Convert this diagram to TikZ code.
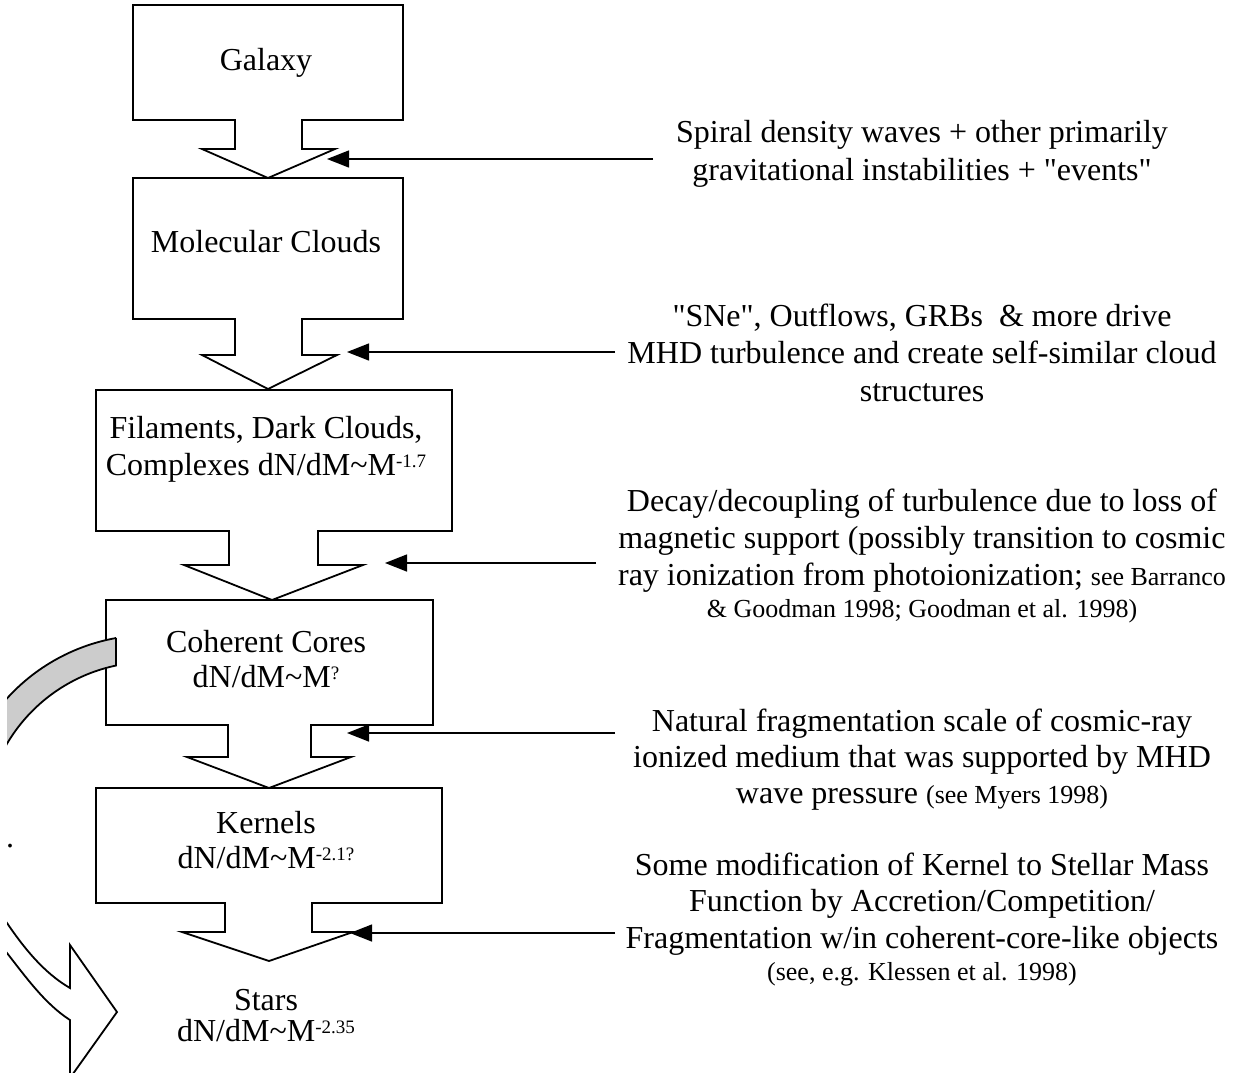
\documentclass[tikz,border=0pt]{standalone}
\usepackage{fontspec}
\setmainfont{Liberation Serif}[Ligatures=TeXOff]
\usetikzlibrary{arrows.meta}
\newcommand\bigf{\fontsize{32}{37}\selectfont}
\newcommand\smallf{\fontsize{26}{30}\selectfont}
\newcommand\tld{\textasciitilde}
\newcommand\mysup[1]{\raisebox{8pt}{\fontsize{19}{20}\selectfont #1}}
\tikzset{
  blockarrow/.style={draw=black, line width=1.8pt, fill=white, line join=miter},
  lbl/.style={font=\bigf, inner sep=0pt, anchor=base},
  note/.style={font=\bigf, inner sep=0pt, anchor=base},
  feed/.style={draw=black, line width=1.4pt, -{Triangle[length=22pt,width=17pt]}},
  band/.style={draw=black, line width=1.8pt, fill=black!20},
  hollow/.style={draw=black, line width=1.8pt, fill=white, line join=miter}
}
\begin{document}
\begin{tikzpicture}[x=1pt,y=-1pt]
\fill[white] (0,0) rectangle (1233,1072);
\useasboundingbox (0,0) rectangle (1233,1072);

% block arrows
\draw[blockarrow] (133,5) -- (403,5) -- (403,120) -- (302,120) -- (302,149) -- (335,149) -- (268,178) -- (202,149) -- (235,149) -- (235,120) -- (133,120) -- cycle;
\draw[blockarrow] (133,178) -- (403,178) -- (403,319) -- (302,319) -- (302,355) -- (337,355) -- (268,389) -- (202,355) -- (235,355) -- (235,319) -- (133,319) -- cycle;
\draw[blockarrow] (96,390) -- (452,390) -- (452,531) -- (318,531) -- (318,565) -- (363,565) -- (272,600) -- (184,565) -- (229,565) -- (229,531) -- (96,531) -- cycle;
\draw[blockarrow] (106,600) -- (433,600) -- (433,725) -- (311,725) -- (311,757) -- (351,757) -- (269,788) -- (187,757) -- (228,757) -- (228,725) -- (106,725) -- cycle;
\draw[blockarrow] (96,788) -- (442,788) -- (442,903) -- (312,903) -- (312,932) -- (353,932) -- (269,961) -- (182,932) -- (225,932) -- (225,903) -- (96,903) -- cycle;

% curved arrow on the left
\begin{scope}
\clip (7,0) rectangle (1233,1072);
\draw[band] (116,638) -- plot[domain=100.1:165, samples=50] ({150+193*cos(\x)},{828-193*sin(\x)})
  -- plot[domain=165:101.8, samples=50] ({150+166*cos(\x)},{828-166*sin(\x)}) -- cycle;
\draw[hollow] (-15,890) -- (7,923) .. controls (24,948) and (44,973) .. (70,988)
  -- (70,945) -- (117,1012) -- (70,1078) -- (70,1020)
  .. controls (45,1004) and (25.5,976.6) .. (7,953) -- (-18,921) -- cycle;
\end{scope}
\node[lbl] (dot) at (10,847) {.};

% box labels
\node[lbl] (gal) at (266,70) {Galaxy};
\node[lbl] (mol) at (266,252) {Molecular Clouds};
\node[lbl] (fil1) at (266,438) {Filaments, Dark Clouds,};
\node[lbl] (fil2) at (266,475) {Complexes dN/dM\tld M\mysup{-1.7}};
\node[lbl] (coh1) at (266,652) {Coherent Cores};
\node[lbl] (coh2) at (266,687) {dN/dM\tld M\mysup{?}};
\node[lbl] (ker1) at (266,833) {Kernels};
\node[lbl] (ker2) at (266,868) {dN/dM\tld M\mysup{-2.1?}};
\node[lbl] (sta1) at (266,1010) {Stars};
\node[lbl] (sta2) at (266,1041) {dN/dM\tld M\mysup{-2.35}};

% notes
\node[note] (n1a) at (922,142) {Spiral density waves + other primarily};
\node[note] (n1b) at (922,180) {gravitational instabilities + "events"};
\node[note] (n2a) at (922,326) {"SNe", Outflows, GRBs\ \ \& more drive};
\node[note] (n2b) at (922,363) {MHD turbulence and create self-similar cloud};
\node[note] (n2c) at (922,401) {structures};
\node[note] (n3a) at (922,511) {Decay/decoupling of turbulence due to loss of};
\node[note] (n3b) at (922,548) {magnetic support (possibly transition to cosmic};
\node[note] (n3c) at (922,585) {ray ionization from photoionization; {\smallf see Barranco}};
\node[note,font=\smallf] (n3d) at (922,617) {\& Goodman 1998; Goodman et al. 1998)};
\node[note] (n4a) at (922,731) {Natural fragmentation scale of cosmic-ray};
\node[note] (n4b) at (922,767) {ionized medium that was supported by MHD};
\node[note] (n4c) at (922,803) {wave pressure {\smallf (see Myers 1998)}};
\node[note] (n5a) at (922,875) {Some modification of Kernel to Stellar Mass};
\node[note] (n5b) at (922,911) {Function by Accretion/Competition/};
\node[note] (n5c) at (922,948) {Fragmentation w/in coherent-core-like objects};
\node[note,font=\smallf] (n5d) at (922,980) {(see, e.g. Klessen et al. 1998)};

% feedback connectors
\coordinate (c1s) at (653,159); \coordinate (c1e) at (327,159);
\coordinate (c2s) at (615,352); \coordinate (c2e) at (347,352);
\coordinate (c3s) at (596,563); \coordinate (c3e) at (385,563);
\coordinate (c4s) at (615,733); \coordinate (c4e) at (347,733);
\coordinate (c5s) at (615,933); \coordinate (c5e) at (350,933);
\draw[feed] (c1s) -- (c1e);
\draw[feed] (c2s) -- (c2e);
\draw[feed] (c3s) -- (c3e);
\draw[feed] (c4s) -- (c4e);
\draw[feed] (c5s) -- (c5e);
\end{tikzpicture}
\end{document}
